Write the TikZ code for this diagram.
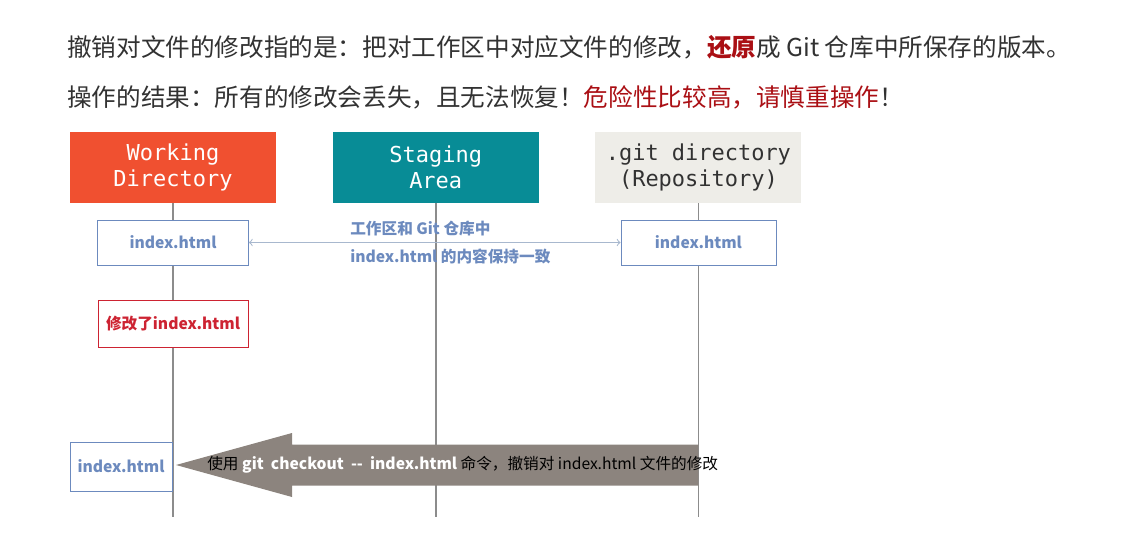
\documentclass[tikz,border=0pt]{standalone}
\usepackage{fontspec}
\setmainfont{Noto Sans CJK SC}
\newfontfamily\gitmono{DejaVu Sans Mono}
\usepackage{tikz}
\usetikzlibrary{positioning}
\tikzset{area/.style={rectangle, minimum width=4.12cm, minimum height=1.42cm, align=center, text=white, font=\gitmono\fontsize{12.5}{15}\selectfont},
file-box/.style={rectangle, minimum width=3.02cm, minimum height=0.9cm, draw=c_file, fill=white, text=c_file, font=\bfseries\fontsize{8.9}{11}\selectfont},
title/.style={anchor=west, inner sep=0pt, text=c_text, font=\fontsize{14}{17}\selectfont},
note/.style={anchor=west, inner sep=0pt, font=\fontsize{8.9}{11}\selectfont},
lifeline/.style={c_life, line width=1pt},
link/.style={c_link, line width=0.6pt, <->, >=to}}
\definecolor{c_work}{RGB}{240,80,48}
\definecolor{c_stage}{RGB}{8,140,150}
\definecolor{c_repo}{RGB}{238,237,232}
\definecolor{c_file}{RGB}{108,138,190}
\definecolor{c_link}{RGB}{168,184,206}
\definecolor{c_edit}{RGB}{205,35,50}
\definecolor{c_warn}{RGB}{170,15,20}
\definecolor{c_cmd}{RGB}{140,132,126}
\definecolor{c_life}{RGB}{140,140,140}
\definecolor{c_text}{RGB}{50,50,50}
\begin{document}
\begin{tikzpicture}
\useasboundingbox (0,0) rectangle (22.94,-11.08);
\node (head1) [title] at (1.34,-0.94) {撤销对文件的修改指的是：把对工作区中对应文件的修改，\textcolor{c_warn}{\bfseries 还原}成 Git 仓库中所保存的版本。};
\node (head2) [title] at (1.34,-1.94) {操作的结果：所有的修改会丢失，且无法恢复！\textcolor{c_warn}{危险性比较高，请慎重操作}！};

\node (wd) [area, fill=c_work] at (3.46,-3.35) {Working\\Directory};
\node (sa) [area, fill=c_stage, right=1.12cm of wd] {Staging\\Area};
\node (repo) [area, fill=c_repo, text=c_text, right=1.12cm of sa] {.git directory\\(Repository)};

% lifelines
\coordinate (wd-end) at (wd.south |- 0,-10.34);
\coordinate (sa-end) at (sa.south |- 0,-10.34);
\coordinate (repo-end) at (repo.south |- 0,-10.34);
\draw [lifeline] (wd.south) -- (wd-end);
\draw [lifeline] (sa.south) -- (sa-end);
\draw [lifeline] (repo.south) -- (repo-end);

\node (idx-wd) [file-box] at (wd.south |- 0,-4.85) {index.html};
\node (idx-repo) [file-box, minimum width=3.1cm] at (repo.south |- 0,-4.85) {index.html};
\draw [link] (idx-wd) -- (idx-repo);
\node (sync1) [note, text=c_file, font=\bfseries\fontsize{8.9}{11}\selectfont] at (7.0,-4.58) {工作区和 Git 仓库中};
\node (sync2) [note, text=c_file, font=\bfseries\fontsize{8.9}{11}\selectfont] at (7.0,-5.12) {index.html 的内容保持一致};

\node (edit) [file-box, draw=c_edit, text=c_edit, minimum width=3cm, minimum height=0.94cm] at (wd.south |- 0,-6.47) {修改了index.html};

\node (restored) [file-box, minimum width=2.04cm, minimum height=0.98cm] at (2.42,-9.33) {index.html};

% checkout arrow
\coordinate (cmd-tail) at (repo.south |- 0,-9.30);
\coordinate (cmd-tip) at (3.52,-9.30);
\fill [c_cmd] ([yshift=0.41cm]cmd-tail) -- ([xshift=2.32cm,yshift=0.41cm]cmd-tip) -- ([xshift=2.32cm,yshift=0.64cm]cmd-tip) -- (cmd-tip)
  -- ([xshift=2.32cm,yshift=-0.64cm]cmd-tip) -- ([xshift=2.32cm,yshift=-0.41cm]cmd-tip) -- ([yshift=-0.41cm]cmd-tail) -- cycle;
\node (cmd) [note, text=black] at (4.14,-9.30) {使用 \textcolor{white}{\bfseries git\ \ checkout\ \ {-}{-}\ \ index.html} 命令，撤销对 index.html 文件的修改};
\end{tikzpicture}
\end{document}
